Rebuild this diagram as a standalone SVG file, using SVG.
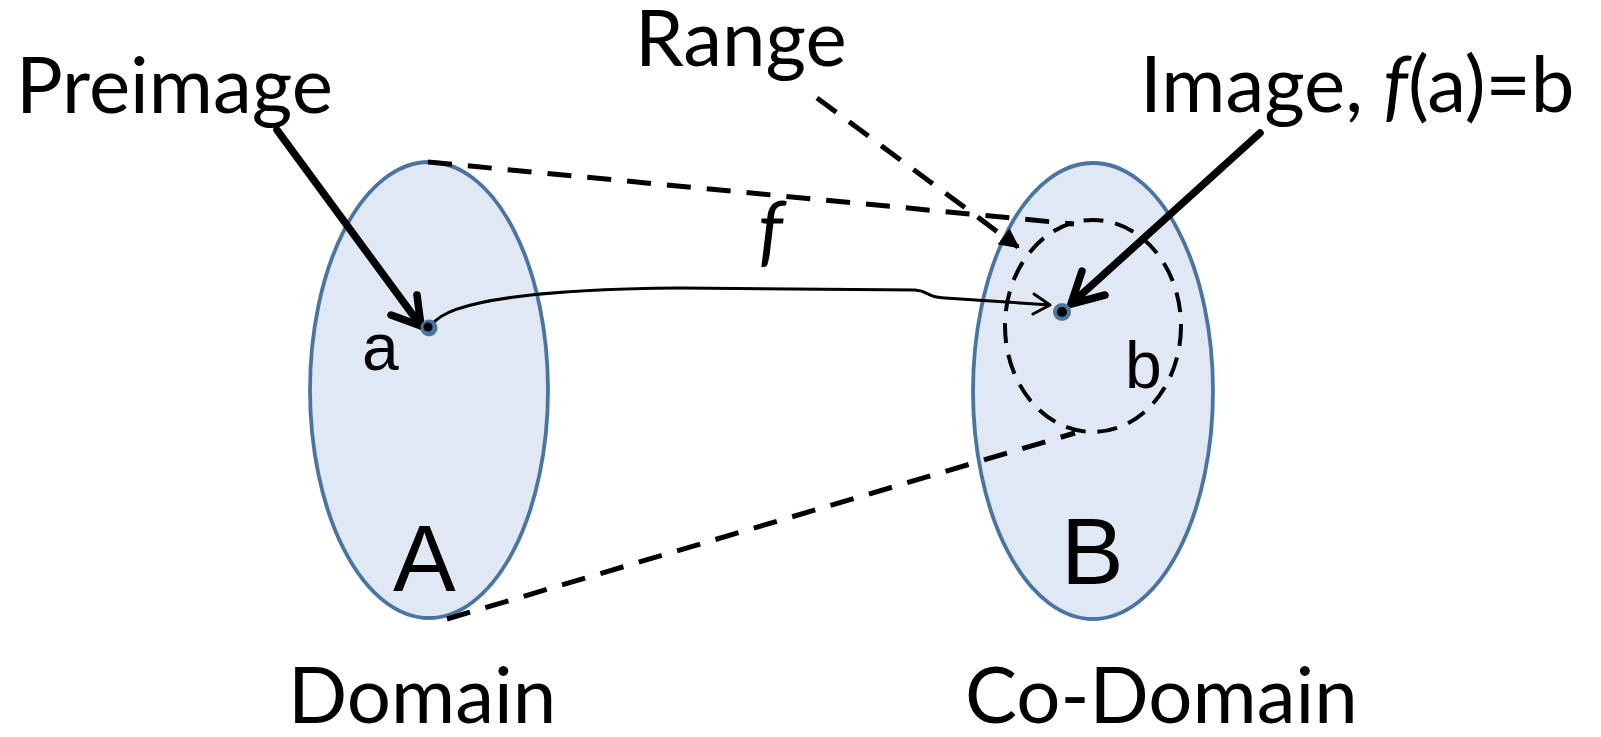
<svg xmlns="http://www.w3.org/2000/svg" width="1601" height="737" viewBox="0 0 1601 737">
<defs>
<style>
.set{fill:#dfe8f3;stroke:#4a75a1;stroke-width:3.8}
.lbl{font-family:Lato,"Liberation Sans",sans-serif;font-size:78px;fill:#000}
.sym{font-family:"Liberation Sans",Arial,sans-serif;fill:#000}
.dash{fill:none;stroke:#000;stroke-width:5;stroke-dasharray:24 16}
.dashc{fill:none;stroke:#000;stroke-width:4;stroke-dasharray:20 12}
.thick{fill:none;stroke:#000;stroke-width:7.5;stroke-linecap:round;stroke-linejoin:round}
.thin{fill:none;stroke:#000;stroke-width:3;stroke-linecap:round;stroke-linejoin:round}
</style>
<marker id="tri" viewBox="0 0 10 10" refX="9" refY="5" markerWidth="4" markerHeight="4" orient="auto" markerUnits="strokeWidth">
<path d="M0,0 L10,5 L0,10 z" fill="#000"/>
</marker>
</defs>
<rect width="1601" height="737" fill="#fff"/>

<g id="setA">
<ellipse class="set" cx="429" cy="390" rx="119" ry="228"/>
<text class="sym" x="393" y="591" font-size="94">A</text>
</g>
<g id="setB">
<ellipse class="set" cx="1093" cy="391" rx="120" ry="228"/>
<text class="sym" x="1061" y="584" font-size="94">B</text>
</g>

<g id="range">
<ellipse class="dashc" cx="1093" cy="326" rx="88" ry="106"/>
</g>

<g id="connectors">
<line class="dash" x1="428" y1="162" x2="1074" y2="224"/>
<line class="dash" x1="447" y1="619" x2="1075" y2="433"/>
<path class="dash" d="M817,98 L1018,247" marker-end="url(#tri)"/>
<path class="thick" d="M277,130 L421,326 M417,295 L421,326 L391,315"/>
<path class="thick" d="M1260,133 L1071,304 M1082,271 L1071,304 L1105,295"/>
<path class="thin" d="M432,325 C448,298 560,289 680,288 L915,290 C930,291 925,297 945,298 L1050,305 M1034,294 L1050,305 L1033,314"/>
</g>

<g id="pointA">
<circle cx="429" cy="328" r="8.5" fill="#4a75a1"/>
<circle cx="428" cy="327" r="4.5" fill="#000"/>
</g>
<g id="pointB">
<circle cx="1062" cy="312" r="9" fill="#4a75a1"/>
<circle cx="1062" cy="312" r="5" fill="#000"/>
</g>

<g id="labels">
<text class="sym" x="362" y="370" font-size="66">a</text>
<text class="sym" x="1125" y="388" font-size="66">b</text>
<text class="lbl" x="16" y="113" font-size="80">Preimage</text>
<text class="lbl" x="635" y="66">Range</text>
<text class="lbl" x="1140" y="112" font-size="81">Image, <tspan font-style="italic">f</tspan>(a)=b</text>
<text class="lbl" x="758" y="257" font-style="italic">f</text>
<text class="lbl" x="288" y="723">Domain</text>
<text class="lbl" x="965" y="723">Co-Domain</text>
</g>
</svg>
